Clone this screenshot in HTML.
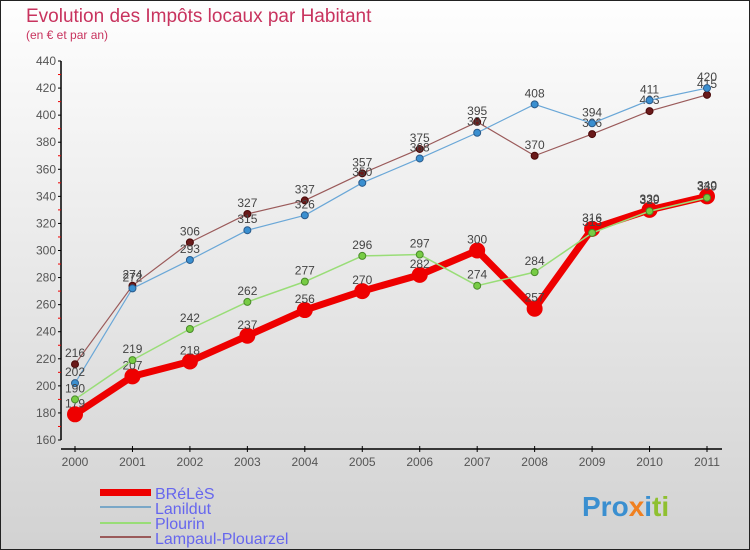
<!DOCTYPE html>
<html><head><meta charset="utf-8"><style>
body{margin:0;width:750px;height:550px;overflow:hidden;font-family:"Liberation Sans",sans-serif}
svg{display:block}
</style></head><body>
<svg width="750" height="550">
<defs><linearGradient id="bg" x1="0" y1="0" x2="0" y2="1"><stop offset="0" stop-color="#fefefe"/><stop offset="1" stop-color="#d2d2d2"/></linearGradient></defs>
<rect x="0.5" y="0.5" width="749" height="549" fill="url(#bg)" stroke="#222"/>
<text x="26" y="22" font-size="19" fill="#c8335e">Evolution des Impôts locaux par Habitant</text>
<text x="26" y="39" font-size="12" fill="#c8335e">(en € et par an)</text>
<g id="axes"></g><g id="series"></g>
<g font-size="16" fill="#6666ee">
<rect x="100" y="489" width="51" height="7" fill="#e00"/>
<text x="155" y="499">BRéLèS</text>
<rect x="100" y="506" width="51" height="2" fill="#7aa7c7"/>
<text x="155" y="514">Lanildut</text>
<rect x="100" y="522" width="51" height="2" fill="#99dd77"/>
<text x="155" y="529">Plourin</text>
<rect x="100" y="536" width="51" height="2" fill="#9a5a5a"/>
<text x="155" y="544">Lampaul-Plouarzel</text>
</g>
<text x="582" y="516" font-size="28" font-weight="bold"><tspan fill="#3a8fd0">Pro</tspan><tspan fill="#f08020">x</tspan><tspan fill="#3a8fd0">i</tspan><tspan fill="#8fc030">ti</tspan></text>
</svg>
<script>
const years=[2000,2001,2002,2003,2004,2005,2006,2007,2008,2009,2010,2011];
const yTicks=[160,180,200,220,240,260,280,300,320,340,360,380,400,420,440];
const breles=[179,207,218,237,256,270,282,300,257,316,330,340];
const lanildut=[202,272,293,315,326,350,368,387,408,394,411,420];
const plourin=[190,219,242,262,277,296,297,274,284,313,329,339];
const lampaul=[216,274,306,327,337,357,375,395,370,386,403,415];
const NS="http://www.w3.org/2000/svg";
const X=i=>75+i*(707-75)/(years.length-1);
const Y=v=>440-(v-160)*(440-61)/280;
function mk(t,a,p){const e=document.createElementNS(NS,t);for(const k in a)e.setAttribute(k,a[k]);p.appendChild(e);return e;}
const ax=document.getElementById('axes');
mk('line',{x1:61,y1:Y(440),x2:61,y2:Y(160),stroke:'#000','stroke-width':1.5},ax);
mk('line',{x1:61,y1:449,x2:722,y2:449,stroke:'#000','stroke-width':1.5},ax);
yTicks.forEach(v=>{
 mk('line',{x1:58,y1:Y(v),x2:61,y2:Y(v),stroke:'#000'},ax);
 if(v<440)mk('line',{x1:58,y1:Y(v+10),x2:61,y2:Y(v+10),stroke:'#e00'},ax);
 const t=mk('text',{x:56,y:Y(v)+4,'text-anchor':'end','font-size':12,fill:'#555'},ax);
 
 
 t.textContent=v;
});
years.forEach((yr,i)=>{
 mk('line',{x1:X(i),y1:446,x2:X(i),y2:452,stroke:'#000'},ax);
 const t=mk('text',{x:X(i),y:466,'text-anchor':'middle','font-size':12,fill:'#555'},ax);
 
 
 t.textContent=yr;
});
const sg=document.getElementById('series');
function series(name,data,color,w,r,fill,stroke){
 const g=mk('g',{},sg);
 
 
 mk('polyline',{points:data.map((v,i)=>X(i)+','+Y(v)).join(' '),fill:'none',stroke:color,'stroke-width':w,'stroke-linejoin':'round'},g);
 data.forEach((v,i)=>{
  const c=mk('circle',{cx:X(i),cy:Y(v),r:r,fill:fill,stroke:stroke,'stroke-width':1},g);
  
  
  const t=mk('text',{x:X(i),y:Y(v)-7,'text-anchor':'middle','font-size':12,fill:'#444'},g);
  
  
  t.textContent=v;
 });
}
series('lampaul',lampaul,'#9a5a5a',1.2,3.5,'#6a1a1a','#4a0a0a');
series('lanildut',lanildut,'#6aa7d7',1.2,3.5,'#3a8fd0','#2a5a8a');
series('breles',breles,'#ee0000',7,7.5,'#ee0000','#ee0000');
series('plourin',plourin,'#99dd77',1.5,3.5,'#77cc44','#4a8a2a');
</script>
</body></html>
